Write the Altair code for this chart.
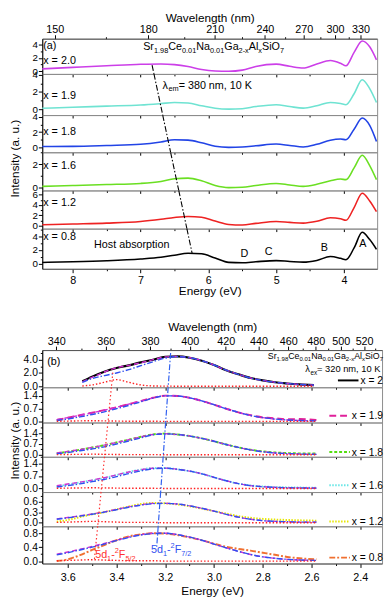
import json
import altair as alt
import pandas as pd

FONT = "Liberation Sans"
HC = 1239.84  # eV * nm

# ---------------- Panel (a): excitation spectra ----------------
E_A = [8.5, 8.0, 7.5, 7.0, 6.7, 6.5, 6.3, 6.1, 5.9, 5.7, 5.5, 5.3, 5.0, 4.8, 4.6,
       4.4, 4.2, 4.05, 3.97, 3.85, 3.73, 3.62, 3.52]
EXC_X20 = [0.36, 0.6, 0.83, 1.05, 1.1, 1.0, 0.72, 0.3, 0.08, 0.03, 0.2, 0.74, 1.07, 0.75, 0.5,
           1.1, 1.6, 1.2, 0.83, 2.8, 4.45, 3.6, 1.7]
EXC_X19 = [0.1, 0.22, 0.35, 0.48, 0.65, 0.78, 0.72, 0.4, 0.1, 0.0, 0.05, 0.3, 0.52, 0.3, 0.12,
           0.4, 0.78, 0.65, 0.52, 1.8, 3.44, 2.4, 0.78]
EXC_X18 = [0.1, 0.13, 0.25, 0.4, 0.7, 1.0, 0.95, 0.6, 0.15, 0.0, 0.05, 0.2, 0.43, 0.25, 0.05,
           0.4, 0.95, 1.1, 1.0, 2.4, 3.87, 2.9, 0.77]
EXC_X16 = [0.12, 0.2, 0.28, 0.38, 0.55, 0.78, 0.83, 0.6, 0.2, 0.02, 0.05, 0.2, 0.38, 0.25, 0.13,
           0.3, 0.6, 0.75, 0.7, 1.7, 2.78, 1.9, 0.7]
EXC_X12 = [0.1, 0.27, 0.45, 0.77, 1.2, 1.55, 1.75, 1.6, 0.85, 0.2, 0.1, 0.4, 0.77, 0.6, 0.45,
           0.8, 1.5, 1.3, 1.0, 3.5, 6.3, 4.8, 2.7]
EXC_X08 = [0.2, 0.3, 0.45, 0.7, 0.95, 1.25, 1.52, 1.45, 0.85, 0.22, 0.15, 0.3, 0.47, 0.35, 0.25,
           0.5, 1.05, 0.8, 0.6, 2.3, 4.55, 3.5, 2.1]
ANNOT_A_TEXT = ["Host absorption", "D", "C", "B", "A"]
ANNOT_A_E = [7.13, 5.47, 5.11, 4.29, 3.72]
ANNOT_A_V = [2.68, 1.41, 1.65, 2.26, 2.82]
HOST_LINE = [(6.83, 61), (6.24, 253)]          # (energy, page y) of the dash-dot guide

# ---------------- Panel (b): emission spectra + Gaussian fits ----------------
E_B = [3.645, 3.6, 3.55, 3.5, 3.45, 3.4, 3.35, 3.3, 3.25, 3.2, 3.15, 3.1, 3.05, 3.0, 2.95,
       2.9, 2.85, 2.8, 2.75, 2.7, 2.65, 2.58]
E_B_X20 = [3.54, 3.5, 3.45, 3.4, 3.35, 3.3, 3.25, 3.2, 3.15, 3.1, 3.05, 3.0, 2.95, 2.9, 2.85,
           2.8, 2.75, 2.7, 2.65, 2.59]
EM_X20 = [0.75, 1.45, 2.2, 2.75, 3.15, 3.6, 4.0, 4.45, 4.5, 4.3, 3.85, 3.2, 2.4, 1.8, 1.25,
          0.88, 0.6, 0.42, 0.28, 0.18]
FIT_X20 = [0.68, 1.35, 2.15, 2.8, 3.15, 3.55, 4.0, 4.42, 4.5, 4.3, 3.85, 3.2, 2.42, 1.8, 1.25,
           0.88, 0.6, 0.42, 0.28, 0.18]
G72_X20 = [0.6, 1.15, 1.6, 2.0, 2.5, 3.1, 3.7, 4.25, 4.45, 4.3, 3.85, 3.2, 2.42, 1.8, 1.25,
           0.88, 0.6, 0.42, 0.28, 0.18]
G52_X20 = [0.05, 0.2, 0.6, 1.0, 0.6, 0.2, 0.05, 0.02, 0.01, 0.0, 0.0, 0.0, 0.0, 0.0, 0.0,
           0.0, 0.0, 0.0, 0.0, 0.0]
EM_X19 = [0.08, 0.2, 0.34, 0.48, 0.62, 0.78, 0.95, 1.12, 1.3, 1.42, 1.4, 1.3, 1.13, 0.92, 0.7,
          0.5, 0.34, 0.22, 0.17, 0.12, 0.13, 0.08]
FIT_X19 = [0.1, 0.21, 0.34, 0.48, 0.62, 0.78, 0.95, 1.12, 1.3, 1.42, 1.4, 1.3, 1.13, 0.92, 0.7,
           0.5, 0.33, 0.21, 0.13, 0.08, 0.05, 0.03]
G72_X19 = [0.05, 0.13, 0.25, 0.38, 0.53, 0.7, 0.88, 1.08, 1.28, 1.41, 1.4, 1.3, 1.13, 0.92, 0.7,
           0.5, 0.33, 0.21, 0.13, 0.08, 0.05, 0.03]
EM_X18 = [0.1, 0.2, 0.33, 0.47, 0.62, 0.8, 0.98, 1.17, 1.33, 1.38, 1.32, 1.22, 1.07, 0.88, 0.67,
          0.48, 0.33, 0.22, 0.15, 0.11, 0.09, 0.08]
FIT_X18 = [0.12, 0.22, 0.34, 0.48, 0.63, 0.8, 0.98, 1.17, 1.32, 1.37, 1.32, 1.22, 1.07, 0.88, 0.67,
           0.48, 0.32, 0.2, 0.12, 0.08, 0.05, 0.03]
G72_X18 = [0.07, 0.15, 0.26, 0.38, 0.52, 0.7, 0.9, 1.1, 1.3, 1.36, 1.32, 1.22, 1.07, 0.88, 0.67,
           0.48, 0.32, 0.2, 0.12, 0.08, 0.05, 0.03]
EM_X16 = [0.12, 0.22, 0.33, 0.45, 0.58, 0.75, 0.92, 1.05, 1.14, 1.14, 1.07, 0.97, 0.82, 0.62, 0.43,
          0.27, 0.17, 0.11, 0.08, 0.06, 0.05, 0.04]
FIT_X16 = [0.16, 0.25, 0.35, 0.47, 0.6, 0.76, 0.92, 1.05, 1.13, 1.14, 1.07, 0.97, 0.82, 0.62, 0.43,
           0.27, 0.16, 0.1, 0.06, 0.04, 0.03, 0.02]
G72_X16 = [0.08, 0.16, 0.26, 0.38, 0.5, 0.66, 0.83, 0.98, 1.1, 1.13, 1.07, 0.97, 0.82, 0.62, 0.43,
           0.27, 0.16, 0.1, 0.06, 0.04, 0.03, 0.02]
EM_X12 = [0.03, 0.08, 0.16, 0.24, 0.3, 0.38, 0.46, 0.53, 0.56, 0.55, 0.52, 0.47, 0.4, 0.33, 0.26,
          0.19, 0.14, 0.11, 0.09, 0.08, 0.07, 0.06]
FIT_X12 = [0.11, 0.15, 0.2, 0.25, 0.31, 0.38, 0.45, 0.51, 0.55, 0.55, 0.53, 0.48, 0.41, 0.33, 0.24,
           0.16, 0.1, 0.06, 0.04, 0.03, 0.02, 0.02]
G72_X12 = [0.1, 0.14, 0.19, 0.24, 0.3, 0.37, 0.44, 0.5, 0.54, 0.55, 0.53, 0.48, 0.41, 0.33, 0.24,
           0.16, 0.1, 0.06, 0.04, 0.03, 0.02, 0.02]
EM_X08 = [0.0, 0.05, 0.17, 0.32, 0.46, 0.6, 0.71, 0.77, 0.8, 0.79, 0.75, 0.68, 0.6, 0.5, 0.41,
          0.35, 0.3, 0.24, 0.18, 0.12, 0.08, 0.05]
FIT_X08 = [0.2, 0.26, 0.34, 0.42, 0.51, 0.6, 0.69, 0.76, 0.8, 0.8, 0.76, 0.69, 0.6, 0.49, 0.38,
           0.28, 0.19, 0.12, 0.08, 0.05, 0.03, 0.02]
G72_X08 = [0.18, 0.24, 0.32, 0.4, 0.49, 0.59, 0.68, 0.75, 0.79, 0.8, 0.76, 0.69, 0.6, 0.49, 0.38,
           0.28, 0.19, 0.12, 0.08, 0.05, 0.03, 0.02]
G52_MINOR = [0.01, 0.02, 0.03, 0.04, 0.03, 0.02, 0.01, 0.01, 0.01, 0.0, 0.0, 0.0, 0.0, 0.0, 0.0,
             0.0, 0.0, 0.0, 0.0, 0.0, 0.0, 0.0]
RED_LINE = [(3.415, 375), (3.491, 567)]
BLUE_LINE = [(3.178, 355), (3.235, 553)]

# ---------------- ticks ----------------
E_TICKS_A = [8, 7, 6, 5, 4]
E_MINOR_A = [7.5, 6.5, 5.5, 4.5]
WL_TICKS_A = [150, 180, 210, 240, 270, 300, 330]
WL_MINOR_A = [165, 195, 225, 255, 285, 315]
E_TICKS_B = [3.6, 3.4, 3.2, 3.0, 2.8, 2.6, 2.4]
E_MINOR_B = [3.5, 3.3, 3.1, 2.9, 2.7, 2.5]
WL_TICKS_B = [340, 360, 380, 400, 420, 440, 460, 480, 500, 520]
WL_MINOR_B = [350, 370, 390, 410, 430, 450, 470, 490, 510, 530]

# ---------------- layout ----------------
W_A, W_B = 342, 347
H_A = [36, 42, 38, 39, 39, 41]
H_B = [38, 36, 35, 36, 35, 38]
TOP_A0 = 34
GAP = 83
XS_A = alt.Scale(domain=[8.45, 3.51], nice=False, zero=False)
XS_B = alt.Scale(domain=[3.7044, 2.3108], nice=False, zero=False)

EM = {'S': .667, 'r': .333, 'C': .722, 'e': .556, 'N': .722, 'a': .556, 'G': .778,
      'A': .667, 'l': .222, 'i': .222, 'O': .778, 'x': .5, '.': .278, '-': .333,
      ' ': .278, '=': .584, 'n': .556, 'm': .833, 'K': .667, ',': .278, 'd': .556,
      'F': .611, '/': .278, '(': .333, ')': .333, 'b': .556, 'λ': .556}


def tw(s, fs):
    return sum(EM.get(c, 0.556) for c in s) * fs


def one():
    return pd.DataFrame({'k': [0]})


def rich(pieces, x, y_mid, anchor='left', fs=11, color='black'):
    small = fs * 0.68
    widths = [tw(t, fs if k == 'n' else small) for t, k in pieces]
    total = sum(widths)
    cx = x - total / 2 if anchor == 'center' else (x - total if anchor == 'right' else x)
    base = y_mid + fs * 0.36
    out = []
    for (t, k), w in zip(pieces, widths):
        size = fs if k == 'n' else small
        dy = 0 if k == 'n' else (fs * 0.27 if k == 'sub' else -fs * 0.4)
        out.append(alt.Chart(one()).mark_text(text=t, font=FONT, fontSize=size, align='left',
                                              baseline='alphabetic', color=color)
                   .encode(x=alt.value(cx), y=alt.value(base + dy)))
        cx += w
    return out


def tick_cond(test, major=4, minor=2):
    return {"condition": {"test": test, "value": minor}, "value": major}


def e_axis(majors, minors, kind, fmt, lpad=2, tpad=2):
    vals = sorted(majors + minors)
    mj = json.dumps(majors)
    test = "indexof(%s, datum.value) < 0" % mj
    if kind == 'bottom':
        return alt.Axis(orient='bottom', values=vals,
                        labelExpr="indexof(%s, datum.value) >= 0 ? format(datum.value, '%s') : ''" % (mj, fmt),
                        tickSize=tick_cond(test), title='Energy (eV)', labelPadding=lpad, titlePadding=tpad,
                        domainColor='#555555', labelOverlap=False, grid=False)
    return alt.Axis(orient='bottom', values=vals, labels=False, domain=False,
                    tickSize=tick_cond(test, 3, 2), title=None, grid=False)


def wl_axis(wl_major, wl_minor, step, tpad=0):
    vals = [HC / w for w in wl_major + wl_minor]
    lab = "round(%g / datum.value) %% %d == 0 ? '' + round(%g / datum.value) : ''" % (HC, step, HC)
    test = "round(%g / datum.value) %% %d != 0" % (HC, step)
    return alt.Axis(orient='top', values=vals, labelExpr=lab, tickSize=tick_cond(test),
                    title='Wavelength (nm)', labelPadding=0, titlePadding=tpad,
                    domainColor='#555555', labelOverlap=False, grid=False)


def y_axis(vals, majors, fmt, lfs, title=None, title_y=0):
    mj = json.dumps(majors)
    kw = dict(values=vals,
              labelExpr="indexof(%s, datum.value) >= 0 ? format(datum.value, '%s') : ''" % (mj, fmt),
              tickSize=tick_cond("indexof(%s, datum.value) < 0" % mj, 4, 2),
              grid=False, labelPadding=1, labelOverlap=False, labelFontSize=lfs)
    if title:
        kw.update(title=title, titleX=-21, titleY=title_y, titleAngle=270,
                  titleAlign='center', titleBaseline='bottom')
    else:
        kw['title'] = None
    return alt.Axis(**kw)


def seg_layer(line, top, h, xs, color, dash, width):
    (e0, y0), (e1, y1) = line
    a, b = max(top, y0), min(top + h, y1)
    if b <= a:
        return None
    f = lambda y: e0 + (e1 - e0) * (y - y0) / (y1 - y0)
    df = pd.DataFrame({'e1': [f(a)], 'e2': [f(b)]})
    return alt.Chart(df).mark_rule(color=color, strokeDash=dash, strokeWidth=width).encode(
        x=alt.X('e1:Q', scale=xs, axis=None), x2='e2:Q',
        y=alt.value(a - top), y2=alt.value(b - top))


FORMULA = [("Sr", 'n'), ("1.98", 'sub'), ("Ce", 'n'), ("0.01", 'sub'), ("Na", 'n'), ("0.01", 'sub'),
           ("Ga", 'n'), ("2-x", 'sub'), ("Al", 'n'), ("x", 'sub'), ("SiO", 'n'), ("7", 'sub')]

# ---------------- panel (a) ----------------
A_ROWS = [
    dict(v=EXC_X20, color='#CC3FE8', dom=[-0.36, 4.79], vals=[0, 1, 2, 3, 4], maj=[0, 2, 4], lab='x = 2.0', ly=22),
    dict(v=EXC_X19, color='#6FE3D2', dom=[-0.69, 4.11], vals=[0, 1, 2, 3, 4], maj=[0, 2, 4], lab='x = 1.9', ly=22),
    dict(v=EXC_X18, color='#2244E6', dom=[-0.65, 4.26], vals=[0, 1, 2, 3, 4], maj=[0, 2, 4], lab='x = 1.8', ly=16),
    dict(v=EXC_X16, color='#6ADF22', dom=[-0.22, 3.03], vals=[0, 1, 2, 3], maj=[0, 2], lab='x = 1.6', ly=13),
    dict(v=EXC_X12, color='#EE2222', dom=[-0.63, 6.85], vals=[0, 1, 2, 3, 4, 5, 6], maj=[0, 2, 4, 6], lab='x = 1.2', ly=12),
    dict(v=EXC_X08, color='#000000', dom=[-0.71, 5.08], vals=[0, 1, 2, 3, 4, 5], maj=[0, 2, 4], lab='x = 0.8', ly=8),
]

rows = []
top = TOP_A0
for i, r in enumerate(A_ROWS):
    h = H_A[i]
    ys = alt.Scale(domain=r['dom'], nice=False, zero=False)
    df = pd.DataFrame({'E': E_A, 'v': r['v']})
    layers = [alt.Chart(df).mark_line(color=r['color'], strokeWidth=1.6, interpolate='monotone', clip=True)
              .encode(x=alt.X('E:Q', scale=XS_A,
                              axis=e_axis(E_TICKS_A, E_MINOR_A, 'bottom' if i == 5 else 'ticks', 'd', 2, 0)),
                      y=alt.Y('v:Q', scale=ys, axis=y_axis(r['vals'], r['maj'], 'd', 10,
                                                           'Intensity (a. u.)' if i == 2 else None, 44)))]
    if i == 0:
        layers.append(alt.Chart(df).mark_point(opacity=0).encode(
            x=alt.X('E:Q', scale=XS_A, axis=wl_axis(WL_TICKS_A, WL_MINOR_A, 30)),
            y=alt.Y('v:Q', scale=ys, axis=None)))
    s = seg_layer(HOST_LINE, top, h, XS_A, 'black', [6, 2, 1.5, 2], 1.1)
    if s is not None:
        layers.append(s)
    layers += rich([(r['lab'], 'n')], 1, r['ly'])
    if i == 0:
        layers += rich([("(a)", 'n')], 1, 7)
        layers += rich(FORMULA, 175, 8, anchor='center')
    if i == 1:
        layers += rich([("λ", 'n'), ("em", 'sub'), (" = 380 nm, 10 K", 'n')], 170, 11, anchor='center')
    if i == 5:
        adf = pd.DataFrame({'t': ANNOT_A_TEXT, 'E': ANNOT_A_E, 'v': ANNOT_A_V})
        layers.append(alt.Chart(adf).mark_text(font=FONT, fontSize=11, color='black').encode(
            x=alt.X('E:Q', scale=XS_A, axis=None), y=alt.Y('v:Q', scale=ys, axis=None), text='t:N'))
    rows.append(alt.layer(*layers).resolve_axis(x='independent', y='independent')
                .properties(width=W_A, height=h))
    top += h

# spacer between the two panels
rows.append(alt.Chart(one()).mark_point(opacity=0).encode(
    x=alt.X('k:Q', axis=None), y=alt.Y('k:Q', axis=None))
    .properties(width=W_B, height=GAP, view=alt.ViewBackground(stroke='transparent')))
top += GAP

# ---------------- panel (b) ----------------
B_ROWS = [
    dict(E=E_B_X20, v=EM_X20, fit=FIT_X20, g72=G72_X20, g52=G52_X20, color='#000000', dash=None, w=2.2,
         dom=[-0.15, 5.45], vals=[0, 1, 2, 3, 4, 5], maj=[0, 2, 4], lab='x = 2', ly=31),
    dict(E=E_B, v=EM_X19, fit=FIT_X19, g72=G72_X19, g52=G52_MINOR, color='#E0209A', dash=[7, 4], w=2,
         dom=[-0.06, 1.88], vals=[0, 0.35, 0.7, 1.05, 1.4, 1.75], maj=[0, 0.7, 1.4], lab='x = 1.9', ly=29),
    dict(E=E_B, v=EM_X18, fit=FIT_X18, g72=G72_X18, g52=G52_MINOR, color='#55DD11', dash=[3, 2], w=2,
         dom=[-0.13, 2.1], vals=[0, 0.35, 0.7, 1.05, 1.4, 1.75], maj=[0, 0.7, 1.4], lab='x = 1.8', ly=30),
    dict(E=E_B, v=EM_X16, fit=FIT_X16, g72=G72_X16, g52=G52_MINOR, color='#66E6E6', dash=[1.5, 1.5], w=2,
         dom=[-0.2, 1.77], vals=[0, 0.35, 0.7, 1.05, 1.4, 1.75], maj=[0, 0.7, 1.4], lab='x = 1.6', ly=29),
    dict(E=E_B, v=EM_X12, fit=FIT_X12, g72=G72_X12, g52=G52_MINOR, color='#E6E600', dash=[1.5, 1.5], w=2,
         dom=[-0.1, 0.87], vals=[0, 0.15, 0.3, 0.45, 0.6, 0.75], maj=[0, 0.3, 0.6], lab='x = 1.2', ly=30),
    dict(E=E_B, v=EM_X08, fit=FIT_X08, g72=G72_X08, g52=G52_MINOR, color='#F07030', dash=[6, 2, 2, 2], w=2,
         dom=[-0.07, 1.0], vals=[0, 0.2, 0.4, 0.6, 0.8], maj=[0, 0.4, 0.8], lab='x = 0.8', ly=32),
]

RIGHT_B = W_B + 1
for i, r in enumerate(B_ROWS):
    h = H_B[i]
    ys = alt.Scale(domain=r['dom'], nice=False, zero=False)
    df = pd.DataFrame({'E': r['E'], 'v': r['v'], 'fit': r['fit'], 'g72': r['g72'], 'g52': r['g52']})
    mk = dict(color=r['color'], strokeWidth=r['w'], interpolate='monotone', clip=True)
    if r['dash']:
        mk['strokeDash'] = r['dash']
    layers = [alt.Chart(df).mark_line(**mk).encode(
        x=alt.X('E:Q', scale=XS_B,
                axis=e_axis(E_TICKS_B, E_MINOR_B, 'bottom' if i == 5 else 'ticks', '.1f', 4, 4)),
        y=alt.Y('v:Q', scale=ys, axis=y_axis(r['vals'], r['maj'], '.1f', 10.5,
                                             'Intensity (a. u.)' if i == 2 else None, 18)))]
    for col, c, d, w in [('fit', '#D030D0', [5, 3], 1.4), ('g72', '#3050F0', [6, 2, 1.5, 2], 1.4),
                         ('g52', '#FF2020', [1.5, 2], 1.4)]:
        layers.append(alt.Chart(df).mark_line(color=c, strokeDash=d, strokeWidth=w,
                                              interpolate='monotone', clip=True)
                      .encode(x=alt.X('E:Q', scale=XS_B, axis=None), y=alt.Y(col + ':Q', scale=ys, axis=None)))
    if i == 0:
        layers.append(alt.Chart(df).mark_point(opacity=0).encode(
            x=alt.X('E:Q', scale=XS_B, axis=wl_axis(WL_TICKS_B, WL_MINOR_B, 20, 2)),
            y=alt.Y('v:Q', scale=ys, axis=None)))
    for line, c, d in [(RED_LINE, '#FF3030', [1.5, 2.5]), (BLUE_LINE, '#3060F0', [6, 2, 1.5, 2])]:
        s = seg_layer(line, top, h, XS_B, c, d, 1.2)
        if s is not None:
            layers.append(s)
    # legend entry
    tl = RIGHT_B - tw(r['lab'], 10.5)
    smk = dict(color=r['color'], strokeWidth=2)
    if r['dash']:
        smk['strokeDash'] = r['dash']
    layers.append(alt.Chart(one()).mark_rule(**smk).encode(
        x=alt.value(tl - 23), x2=alt.value(tl - 2), y=alt.value(r['ly'])))
    layers += rich([(r['lab'], 'n')], RIGHT_B, r['ly'], anchor='right', fs=10.5)
    if i == 0:
        layers += rich([("(b)", 'n')], 5, 11)
        layers += rich(FORMULA, RIGHT_B, 6, anchor='right', fs=9)
        layers += rich([("λ", 'n'), ("ex", 'sub'), (" = 320 nm, 10 K", 'n')], RIGHT_B, 19,
                       anchor='right', fs=9.5)
    if i == 5:
        layers += rich([("5d", 'n'), ("1", 'sub'), ("-", 'n'), ("2", 'sup'), ("F", 'n'), ("5/2", 'sub')],
                       54, 28, color='#FF3030')
        layers += rich([("5d", 'n'), ("1", 'sub'), ("-", 'n'), ("2", 'sup'), ("F", 'n'), ("7/2", 'sub')],
                       111, 23, color='#3050F0')
    rows.append(alt.layer(*layers).resolve_axis(x='independent', y='independent')
                .properties(width=W_B, height=h))
    top += h

chart = (alt.vconcat(*rows, spacing=0, bounds='flush')
         .configure_view(stroke='#8c8c8c', strokeWidth=1)
         .configure_axis(labelFont=FONT, titleFont=FONT, labelFontSize=11, titleFontSize=12,
                         titleFontWeight='normal', labelColor='black', titleColor='black',
                         tickColor='black', domainColor='black', tickWidth=1))

try:
    chart.properties(padding={'left': 0, 'top': -4, 'right': 0, 'bottom': 0}).save(
        "out.html", embed_options={"renderer": "svg", "actions": False})
except Exception:
    chart.properties(padding={'left': 0, 'top': 0, 'right': 0, 'bottom': 0}).save(
        "out.html", embed_options={"renderer": "svg", "actions": False})
